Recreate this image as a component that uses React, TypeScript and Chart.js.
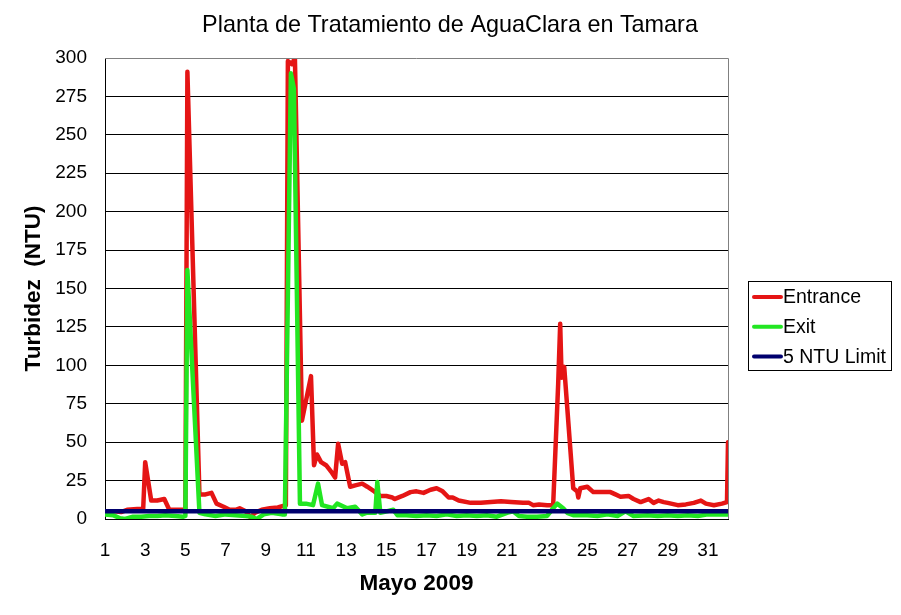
import React, { useEffect, useRef } from 'react';
import { Chart, registerables } from 'chart.js';

Chart.register(...registerables);

const title = 'Planta de Tratamiento de AguaClara en Tamara';
const xTitle = 'Mayo 2009';
const yTitle = 'Turbidez  (NTU)';

const xTicks = [1, 3, 5, 7, 9, 11, 13, 15, 17, 19, 21, 23, 25, 27, 29, 31];

// day of month (fractional) and turbidity
const entranceDays = [
  1.0, 1.5, 1.8, 2.1, 2.6, 2.9, 3.0, 3.3, 3.6, 3.95, 4.2, 4.6, 5.0, 5.1, 5.7, 6.0, 6.3, 6.55, 6.9,
  7.2, 7.5, 7.7, 8.0, 8.25, 8.45, 8.8, 9.2, 9.6, 10.0, 10.1, 10.3, 10.45, 10.8, 11.25, 11.4, 11.55, 11.75, 12.0, 12.3,
  12.45, 12.6, 12.8, 12.95, 13.2, 13.5, 13.8, 14.05, 14.4, 14.7, 15.0, 15.3, 15.4, 15.8, 16.2, 16.5, 16.85, 17.2, 17.5, 17.8,
  18.1, 18.3, 18.6, 19.2, 19.7, 20.2, 20.7, 21.2, 21.8, 22.1, 22.3, 22.6, 23.0, 23.3, 23.55, 23.65, 23.72, 23.85, 24.3, 24.5,
  24.55, 24.65, 25.0, 25.3, 25.8, 26.15, 26.4, 26.65, 27.05, 27.3, 27.65, 28.05, 28.3, 28.55, 28.8, 29.0, 29.5, 29.9, 30.3, 30.65,
  30.9, 31.3, 31.7, 31.95, 32.0,
];
const entranceNtu = [
  5, 5, 4.5, 6, 6.5, 6.5, 37, 12, 12, 13, 6, 6, 6, 291, 16, 16, 17, 10, 8,
  6, 6, 7, 5, 1, 4, 6, 7, 7.5, 9, 298, 296, 300, 64, 93, 35, 42, 37, 35, 30,
  27, 49, 36, 37, 21, 22, 23, 21, 18, 15, 15, 14, 13, 15, 17.5, 18, 17, 19, 20, 18,
  14, 14, 12, 10.5, 10.5, 11, 11.5, 11, 10.5, 10.5, 9, 9.5, 9, 9, 88, 127, 92, 99, 20, 18,
  14, 20, 21, 17.5, 17.5, 17.5, 16, 14.5, 15, 13, 11, 13, 10.5, 12, 11, 10.5, 9, 9.5, 10.5, 12,
  10, 9, 10, 11, 50,
];

const exitDays = [
  1.0, 1.4, 1.75, 2.0, 2.4, 2.8, 3.2, 3.6, 4.0, 4.5, 4.9, 5.0, 5.1, 5.7, 6.0, 6.5, 7.0, 7.5, 8.0, 8.3,
  8.55, 8.9, 9.3, 9.8, 9.95, 10.25, 10.4, 10.7, 11.0, 11.35, 11.6, 11.8, 12.35, 12.55, 13.05, 13.45, 13.8, 14.0, 14.45, 14.55,
  14.7, 15.35, 15.55, 16.0, 16.5, 17.0, 17.5, 18.0, 18.5, 19.0, 19.5, 20.0, 20.5, 21.0, 21.3, 21.6, 22.0, 22.5, 23.0, 23.3,
  23.5, 23.8, 24.0, 24.3, 25.0, 25.5, 26.0, 26.5, 26.9, 27.3, 28.0, 28.5, 29.0, 29.5, 30.0, 30.5, 31.0, 31.5, 32.0,
];
const exitNtu = [
  3, 2.5, 0.5, 0, 1.5, 1.5, 2, 2, 2.5, 2, 1.5, 2, 162, 4, 3, 2, 3, 2.5, 2, 1.5,
  0, 3, 4, 3, 3, 290, 280, 10, 10, 9, 23, 9, 7, 10, 7, 8, 3, 4, 4, 24,
  4, 6, 2.5, 2.5, 2, 2.5, 2, 3, 2, 2.5, 2, 2.5, 1.5, 4, 5, 2, 1.5, 1.5, 2, 7,
  10, 7, 4, 2.5, 2.5, 2, 3, 2, 5, 2, 2.5, 2, 2.5, 2, 2.5, 2, 3, 3, 3,
];

const limitDays = [1, 32];
const limitNtu = [5, 5];

const toPoints = (xs: number[], ys: number[]) => xs.map((x, i) => ({ x, y: ys[i] }));

const FONT = '"Liberation Sans", Arial, sans-serif';

const series = [
  { label: 'Entrance', color: '#e51515' },
  { label: 'Exit', color: '#22e622' },
  { label: '5 NTU Limit', color: '#00006e' },
];

const extras = {
  id: 'extras',
  afterDraw(chart: any) {
    const { ctx, chartArea } = chart;
    ctx.save();
    // title
    ctx.fillStyle = '#000';
    ctx.font = `23.4px ${FONT}`;
    ctx.textAlign = 'center';
    ctx.textBaseline = 'middle';
    ctx.fillText(title, 450, 26);
    // grey top and right frame
    ctx.strokeStyle = '#808080';
    ctx.lineWidth = 1;
    ctx.beginPath();
    ctx.moveTo(chartArea.left, chartArea.top + 0.5);
    ctx.lineTo(chartArea.right + 0.5, chartArea.top + 0.5);
    ctx.lineTo(chartArea.right + 0.5, chartArea.bottom);
    ctx.stroke();
    // legend
    ctx.strokeStyle = '#000';
    ctx.strokeRect(748.5, 281.5, 143, 89);
    ctx.font = `19.5px ${FONT}`;
    ctx.textAlign = 'left';
    series.forEach((s, i) => {
      const y = 297 + i * 29.7;
      ctx.strokeStyle = s.color;
      ctx.lineWidth = 4;
      ctx.lineCap = 'round';
      ctx.beginPath();
      ctx.moveTo(754, y);
      ctx.lineTo(781, y);
      ctx.stroke();
      ctx.fillStyle = '#000';
      ctx.fillText(s.label, 783, y + 1);
    });
    ctx.restore();
  },
};

const lineStyle = {
  borderWidth: 4.5,
  pointRadius: 0,
  borderJoinStyle: 'round' as const,
  borderCapStyle: 'round' as const,
  tension: 0,
};

const App: React.FC = () => {
  const canvasRef = useRef<HTMLCanvasElement>(null);

  useEffect(() => {
    const ctx = canvasRef.current?.getContext('2d');
    if (!ctx) return;
    const chart = new Chart(ctx, {
      type: 'line',
      data: {
        datasets: [
          {
            label: series[0].label,
            data: toPoints(entranceDays, entranceNtu),
            borderColor: series[0].color,
            order: 3,
            ...lineStyle,
          },
          {
            label: series[1].label,
            data: toPoints(exitDays, exitNtu),
            borderColor: series[1].color,
            order: 2,
            ...lineStyle,
          },
          {
            label: series[2].label,
            data: toPoints(limitDays, limitNtu),
            borderColor: series[2].color,
            order: 1,
            ...lineStyle,
          },
        ],
      },
      options: {
        animation: false,
        responsive: true,
        maintainAspectRatio: false,
        layout: { padding: { top: 58, right: 173, left: 0, bottom: 0 } },
        plugins: {
          legend: { display: false },
          title: { display: false },
          tooltip: { enabled: false },
        },
        scales: {
          x: {
            type: 'linear',
            min: 1,
            max: 32,
            afterBuildTicks: (scale: any) => {
              scale.ticks = xTicks.map((v) => ({ value: v }));
            },
            afterFit: (scale: any) => {
              scale.height = 96;
            },
            grid: { display: false, drawTicks: false },
            border: { display: true, color: '#000', width: 1 },
            ticks: {
              color: '#000',
              font: { family: FONT, size: 19 },
              padding: 20,
              maxRotation: 0,
              autoSkip: false,
            },
            title: {
              display: true,
              text: xTitle,
              color: '#000',
              font: { family: FONT, size: 22.5, weight: 'bold' },
              padding: { top: 0, bottom: 17.5 },
            },
          },
          y: {
            min: 0,
            max: 300,
            afterFit: (scale: any) => {
              scale.width = 105;
            },
            grid: {
              drawTicks: false,
              color: (c: any) => (c.tick && c.tick.value === 300 ? 'rgba(0,0,0,0)' : '#000'),
              lineWidth: 1,
            },
            border: { display: true, color: '#000', width: 1 },
            ticks: {
              stepSize: 25,
              color: '#000',
              font: { family: FONT, size: 19 },
              padding: 18,
            },
            title: {
              display: true,
              text: yTitle,
              color: '#000',
              font: { family: FONT, size: 22.5, weight: 'bold' },
              padding: { top: 20.5, bottom: 0 },
            },
          },
        },
      },
      plugins: [extras],
    });
    return () => chart.destroy();
  }, []);

  return (
    <div style={{ position: 'fixed', left: 0, top: 0, width: 901, height: 615, background: '#fff' }}>
      <canvas ref={canvasRef}></canvas>
    </div>
  );
};

export default App;
